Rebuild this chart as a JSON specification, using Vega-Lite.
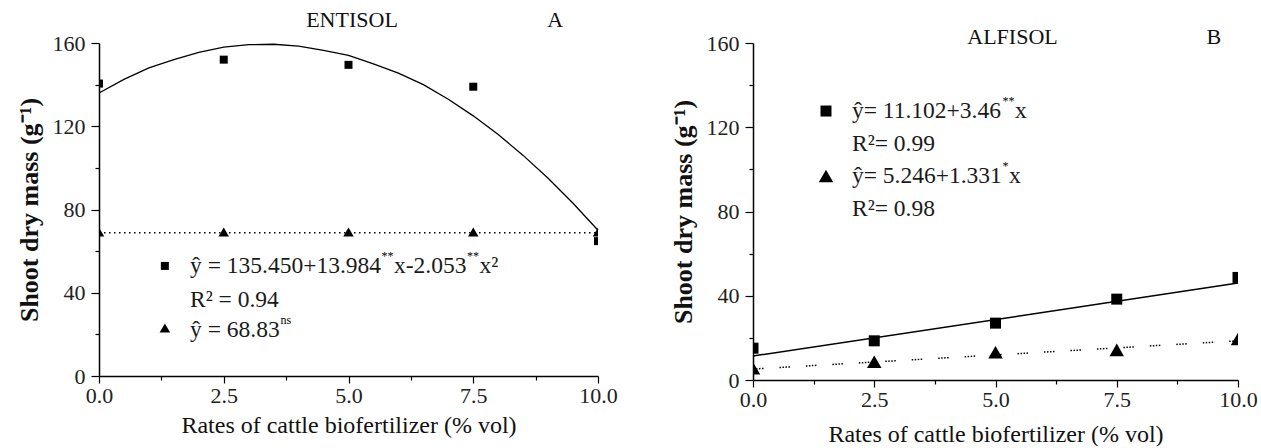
{
  "$schema": "https://vega.github.io/schema/vega-lite/v6.json",
  "padding": {"left": 16, "top": 9, "right": 5, "bottom": 0},
  "bounds": "flush",
  "spacing": 155,
  "config": {
    "view": {"stroke": null},
    "font": "Liberation Serif",
    "text": {"font": "Liberation Serif"},
    "axis": {"grid": false, "domainColor": "#000", "tickColor": "#000", "domainWidth": 1.5, "tickWidth": 1.2, "labelFont": "Liberation Serif", "titleFont": "Liberation Serif", "labelColor": "#222", "titleColor": "#111", "labelFontSize": 22, "labelFlush": false, "labelOverlap": false}
  },
  "datasets": {
    "curveA": [
      {"x": 0, "y": 136}, {"x": 0.5, "y": 142.5}, {"x": 1, "y": 148}, {"x": 1.5, "y": 152}, {"x": 2, "y": 155.5},
      {"x": 2.5, "y": 158}, {"x": 3, "y": 159.2}, {"x": 3.5, "y": 159.4}, {"x": 4, "y": 158.5}, {"x": 4.5, "y": 156.5},
      {"x": 5, "y": 154}, {"x": 5.5, "y": 150}, {"x": 6, "y": 145.5}, {"x": 6.5, "y": 140}, {"x": 7, "y": 133},
      {"x": 7.5, "y": 125}, {"x": 8, "y": 116}, {"x": 8.5, "y": 106}, {"x": 9, "y": 95}, {"x": 9.5, "y": 83}, {"x": 10, "y": 70}
    ],
    "hlineA": [{"x": 0, "y": 68.83}, {"x": 10, "y": 68.83}],
    "ptsA": [
      {"x": 0, "y": 140.5, "s": "sq"}, {"x": 2.5, "y": 152, "s": "sq"}, {"x": 5, "y": 149.5, "s": "sq"}, {"x": 7.5, "y": 139, "s": "sq"}, {"x": 10, "y": 64.8, "s": "sq"},
      {"x": 0, "y": 69.2, "s": "tri"}, {"x": 2.5, "y": 69.2, "s": "tri"}, {"x": 5, "y": 69.2, "s": "tri"}, {"x": 7.5, "y": 69.2, "s": "tri"}, {"x": 10, "y": 69.2, "s": "tri"}
    ],
    "legA": [{"x": 1.32, "y": 52.9, "s": "sq"}, {"x": 1.32, "y": 23.1, "s": "tri"}],
    "txtA": [
      {"x": 1.824, "y": 52.9, "t": "ŷ = 135.450+13.984"},
      {"x": 5.912, "y": 52.9, "t": "x-2.053"},
      {"x": 7.625, "y": 52.9, "t": "x²"},
      {"x": 1.824, "y": 36.5, "t": "R² = 0.94"},
      {"x": 1.824, "y": 22.1, "t": "ŷ = 68.83"}
    ],
    "supA": [
      {"x": 5.661, "y": 52.9, "t": "**"},
      {"x": 7.375, "y": 52.9, "t": "**"},
      {"x": 3.637, "y": 22.1, "t": "ns"}
    ],
    "headA": [{"x": 5.07, "y": 171, "t": "ENTISOL"}, {"x": 9.14, "y": 171, "t": "A"}],
    "minor": [{"x": 1.25, "y": 20}, {"x": 3.75, "y": 60}, {"x": 6.25, "y": 100}, {"x": 8.75, "y": 140}],
    "lineB": [{"x": 0, "y": 11.4}, {"x": 10, "y": 46.0}],
    "dotB": [{"x": 0, "y": 5.2}, {"x": 10, "y": 18.6}],
    "ptsB": [
      {"x": 0, "y": 15.1, "s": "sq"}, {"x": 2.5, "y": 18.6, "s": "sq"}, {"x": 5, "y": 27, "s": "sq"}, {"x": 7.5, "y": 38.4, "s": "sq"}, {"x": 10, "y": 48.7, "s": "sq"},
      {"x": 0, "y": 5.6, "s": "tri"}, {"x": 2.5, "y": 8.7, "s": "tri"}, {"x": 5, "y": 13.2, "s": "tri"}, {"x": 7.5, "y": 14.3, "s": "tri"}, {"x": 10, "y": 19.5, "s": "tri"}
    ],
    "legB": [{"x": 1.505, "y": 127.7, "s": "sq"}, {"x": 1.505, "y": 96.9, "s": "tri"}],
    "txtB": [
      {"x": 2.041, "y": 127.7, "t": "ŷ= 11.102+3.46"},
      {"x": 5.402, "y": 127.7, "t": "x"},
      {"x": 2.041, "y": 112.0, "t": "R²= 0.99"},
      {"x": 2.041, "y": 96.9, "t": "ŷ= 5.246+1.331"},
      {"x": 5.278, "y": 96.9, "t": "x"},
      {"x": 2.041, "y": 81.2, "t": "R²= 0.98"}
    ],
    "supB": [
      {"x": 5.144, "y": 127.7, "t": "**"},
      {"x": 5.144, "y": 96.9, "t": "*"}
    ],
    "headB": [{"x": 5.35, "y": 162.8, "t": "ALFISOL"}, {"x": 9.5, "y": 162.8, "t": "B"}]
  },
  "hconcat": [
    {
      "width": 499,
      "height": 333,
      "resolve": {"axis": {"x": "independent", "y": "independent"}},
      "layer": [
        {
          "data": {"name": "curveA"},
          "mark": {"type": "line", "color": "#000", "strokeWidth": 1.3},
          "encoding": {
            "x": {"field": "x", "type": "quantitative", "scale": {"domain": [0, 10], "nice": false},
                  "axis": {"orient": "bottom", "values": [0, 2.5, 5, 7.5, 10], "format": ".1f", "tickSize": 7, "labelPadding": 2,
                           "title": "Rates of cattle biofertilizer (% vol)", "titleFontSize": 24, "titleFontWeight": "normal", "titlePadding": 7}},
            "y": {"field": "y", "type": "quantitative", "scale": {"domain": [0, 160], "nice": false},
                  "axis": {"orient": "left", "values": [0, 40, 80, 120, 160], "tickSize": 8, "labelPadding": 6,
                           "title": "Shoot dry mass (g⁻¹)", "titleFontSize": 26, "titleFontWeight": "bold", "titlePadding": 10}}
          }
        },
        {
          "data": {"name": "minor"},
          "mark": {"type": "point", "opacity": 0},
          "encoding": {
            "x": {"field": "x", "type": "quantitative", "axis": {"orient": "bottom", "values": [1.25, 3.75, 6.25, 8.75], "labels": false, "domain": false, "tickSize": 4, "title": null}},
            "y": {"field": "y", "type": "quantitative", "axis": {"orient": "left", "values": [20, 60, 100, 140], "labels": false, "domain": false, "tickSize": 4, "title": null}}
          }
        },
        {
          "data": {"name": "hlineA"},
          "mark": {"type": "line", "color": "#000", "strokeWidth": 1.5, "strokeDash": [1.5, 3.5]},
          "encoding": {"x": {"field": "x", "type": "quantitative", "axis": null}, "y": {"field": "y", "type": "quantitative", "axis": null}}
        },
        {
          "data": {"name": "ptsA"},
          "transform": [{"filter": "datum.s === 'sq'"}],
          "mark": {"type": "square", "filled": true, "color": "#000", "opacity": 1, "size": 64, "clip": true},
          "encoding": {"x": {"field": "x", "type": "quantitative", "axis": null}, "y": {"field": "y", "type": "quantitative", "axis": null}}
        },
        {
          "data": {"name": "ptsA"},
          "transform": [{"filter": "datum.s === 'tri'"}],
          "mark": {"type": "point", "shape": "triangle-up", "filled": true, "color": "#000", "opacity": 1, "size": 110, "clip": true},
          "encoding": {"x": {"field": "x", "type": "quantitative", "axis": null}, "y": {"field": "y", "type": "quantitative", "axis": null}}
        },
        {
          "data": {"name": "legA"},
          "transform": [{"filter": "datum.s === 'sq'"}],
          "mark": {"type": "square", "filled": true, "color": "#000", "opacity": 1, "size": 64},
          "encoding": {"x": {"field": "x", "type": "quantitative", "axis": null}, "y": {"field": "y", "type": "quantitative", "axis": null}}
        },
        {
          "data": {"name": "legA"},
          "transform": [{"filter": "datum.s === 'tri'"}],
          "mark": {"type": "point", "shape": "triangle-up", "filled": true, "color": "#000", "opacity": 1, "size": 110},
          "encoding": {"x": {"field": "x", "type": "quantitative", "axis": null}, "y": {"field": "y", "type": "quantitative", "axis": null}}
        },
        {
          "data": {"name": "txtA"},
          "mark": {"type": "text", "align": "left", "baseline": "middle", "fontSize": 23.5, "fill": "#1a1a1a", "font": "Liberation Serif"},
          "encoding": {"x": {"field": "x", "type": "quantitative", "axis": null}, "y": {"field": "y", "type": "quantitative", "axis": null}, "text": {"field": "t"}}
        },
        {
          "data": {"name": "supA"},
          "mark": {"type": "text", "align": "left", "baseline": "middle", "fontSize": 12, "dy": -10, "fill": "#000", "font": "Liberation Serif"},
          "encoding": {"x": {"field": "x", "type": "quantitative", "axis": null}, "y": {"field": "y", "type": "quantitative", "axis": null}, "text": {"field": "t"}}
        },
        {
          "data": {"name": "headA"},
          "mark": {"type": "text", "align": "center", "baseline": "middle", "fontSize": 22, "fill": "#111", "font": "Liberation Serif"},
          "encoding": {"x": {"field": "x", "type": "quantitative", "axis": null}, "y": {"field": "y", "type": "quantitative", "axis": null}, "text": {"field": "t"}}
        }
      ]
    },
    {
      "width": 485,
      "height": 337,
      "resolve": {"axis": {"x": "independent", "y": "independent"}},
      "layer": [
        {
          "data": {"name": "lineB"},
          "mark": {"type": "line", "color": "#000", "strokeWidth": 1.5},
          "encoding": {
            "x": {"field": "x", "type": "quantitative", "scale": {"domain": [0, 10], "nice": false},
                  "axis": {"orient": "bottom", "values": [0, 2.5, 5, 7.5, 10], "format": ".1f", "tickSize": 7, "labelPadding": 2,
                           "title": "Rates of cattle biofertilizer (% vol)", "titleFontSize": 24, "titleFontWeight": "normal", "titlePadding": 12}},
            "y": {"field": "y", "type": "quantitative", "scale": {"domain": [0, 160], "nice": false},
                  "axis": {"orient": "left", "values": [0, 40, 80, 120, 160], "tickSize": 8, "labelPadding": 6,
                           "title": "Shoot dry mass (g⁻¹)", "titleFontSize": 26, "titleFontWeight": "bold", "titlePadding": 10}}
          }
        },
        {
          "data": {"name": "minor"},
          "mark": {"type": "point", "opacity": 0},
          "encoding": {
            "x": {"field": "x", "type": "quantitative", "axis": {"orient": "bottom", "values": [1.25, 3.75, 6.25, 8.75], "labels": false, "domain": false, "tickSize": 4, "title": null}},
            "y": {"field": "y", "type": "quantitative", "axis": {"orient": "left", "values": [20, 60, 100, 140], "labels": false, "domain": false, "tickSize": 4, "title": null}}
          }
        },
        {
          "data": {"name": "dotB"},
          "mark": {"type": "line", "color": "#000", "strokeWidth": 1.5, "strokeDash": [1.5, 1.5, 1.5, 1.5, 1.5, 1.5, 1.5, 16]},
          "encoding": {"x": {"field": "x", "type": "quantitative", "axis": null}, "y": {"field": "y", "type": "quantitative", "axis": null}}
        },
        {
          "data": {"name": "ptsB"},
          "transform": [{"filter": "datum.s === 'sq'"}],
          "mark": {"type": "square", "filled": true, "color": "#000", "opacity": 1, "size": 121, "clip": true},
          "encoding": {"x": {"field": "x", "type": "quantitative", "axis": null}, "y": {"field": "y", "type": "quantitative", "axis": null}}
        },
        {
          "data": {"name": "ptsB"},
          "transform": [{"filter": "datum.s === 'tri'"}],
          "mark": {"type": "point", "shape": "triangle-up", "filled": true, "color": "#000", "opacity": 1, "size": 210, "clip": true},
          "encoding": {"x": {"field": "x", "type": "quantitative", "axis": null}, "y": {"field": "y", "type": "quantitative", "axis": null}}
        },
        {
          "data": {"name": "legB"},
          "transform": [{"filter": "datum.s === 'sq'"}],
          "mark": {"type": "square", "filled": true, "color": "#000", "opacity": 1, "size": 121},
          "encoding": {"x": {"field": "x", "type": "quantitative", "axis": null}, "y": {"field": "y", "type": "quantitative", "axis": null}}
        },
        {
          "data": {"name": "legB"},
          "transform": [{"filter": "datum.s === 'tri'"}],
          "mark": {"type": "point", "shape": "triangle-up", "filled": true, "color": "#000", "opacity": 1, "size": 210},
          "encoding": {"x": {"field": "x", "type": "quantitative", "axis": null}, "y": {"field": "y", "type": "quantitative", "axis": null}}
        },
        {
          "data": {"name": "txtB"},
          "mark": {"type": "text", "align": "left", "baseline": "middle", "fontSize": 23.5, "fill": "#1a1a1a", "font": "Liberation Serif"},
          "encoding": {"x": {"field": "x", "type": "quantitative", "axis": null}, "y": {"field": "y", "type": "quantitative", "axis": null}, "text": {"field": "t"}}
        },
        {
          "data": {"name": "supB"},
          "mark": {"type": "text", "align": "left", "baseline": "middle", "fontSize": 12, "dy": -10, "fill": "#000", "font": "Liberation Serif"},
          "encoding": {"x": {"field": "x", "type": "quantitative", "axis": null}, "y": {"field": "y", "type": "quantitative", "axis": null}, "text": {"field": "t"}}
        },
        {
          "data": {"name": "headB"},
          "mark": {"type": "text", "align": "center", "baseline": "middle", "fontSize": 22, "fill": "#111", "font": "Liberation Serif"},
          "encoding": {"x": {"field": "x", "type": "quantitative", "axis": null}, "y": {"field": "y", "type": "quantitative", "axis": null}, "text": {"field": "t"}}
        }
      ]
    }
  ]
}
